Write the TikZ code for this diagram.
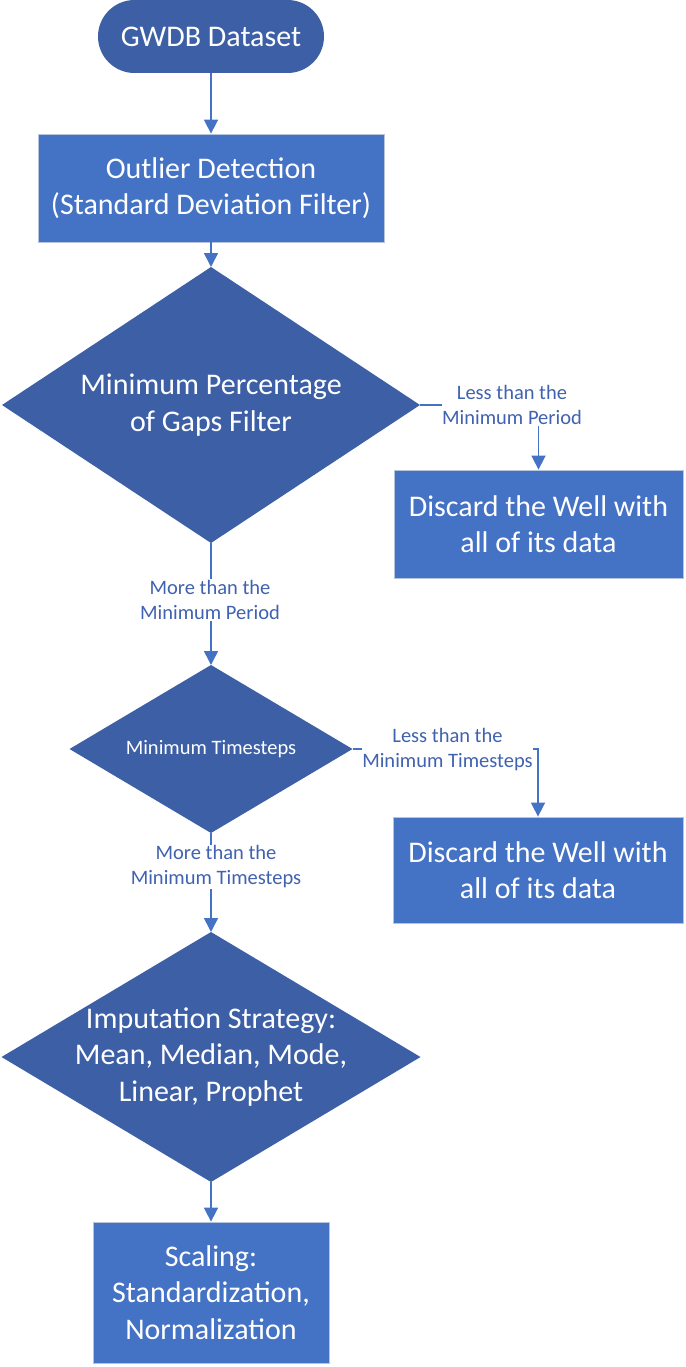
\documentclass[tikz,border=0pt]{standalone}
\usepackage{fontspec}
\setmainfont{Carlito}
\usetikzlibrary{shapes.geometric,shapes.misc,arrows.meta}
\definecolor{boxblue}{HTML}{4472C4}
\definecolor{darkblue}{HTML}{3C5FA6}
\definecolor{lblblue}{HTML}{4062B0}
\definecolor{edgegray}{HTML}{B7C4DE}
\begin{document}
\begin{tikzpicture}[x=1pt,y=-1pt,
 big/.style={font=\fontsize{30}{36.6}\selectfont},
 small/.style={font=\fontsize{20.5}{25}\selectfont},
 procbox/.style={rectangle, fill=boxblue, draw=edgegray, line width=0.8pt, text=white, align=center, big, inner sep=0pt},
 term/.style={rounded rectangle, fill=darkblue, draw=none, text=white, big, inner sep=0pt},
 dec/.style={diamond, fill=darkblue, draw=none, inner sep=0pt, outer sep=0pt},
 dectext/.style={text=white, align=center},
 conn/.style={draw=boxblue, line width=1.6pt, -{Triangle[length=14pt,width=14pt]}},
 lbl/.style={small, text=lblblue, fill=white, align=center, inner xsep=0pt, inner ysep=1pt}
]
\useasboundingbox (0,0) rectangle (685,1367);

\node[term, minimum width=226pt, minimum height=73pt] (start) at (211,36.5) {GWDB Dataset};
\node[procbox, minimum width=346pt, minimum height=108pt] (b1) at (211,188) {Outlier Detection\\(Standard Deviation Filter)};
\node[dec, minimum width=418pt, minimum height=276pt,
      label={[dectext,big]center:{Minimum Percentage\\of Gaps Filter}}] (d1) at (211,405) {};
\node[procbox, minimum width=289pt, minimum height=108pt] (disc1) at (538.5,524) {Discard the Well with\\all of its data};
\node[dec, minimum width=283pt, minimum height=168pt,
      label={[dectext,small]center:{Minimum Timesteps}}] (d2) at (211,749) {};
\node[procbox, minimum width=290pt, minimum height=106pt] (disc2) at (538,870) {Discard the Well with\\all of its data};
\node[dec, minimum width=419pt, minimum height=250pt,
      label={[dectext,big]center:{Imputation Strategy:\\Mean, Median, Mode,\\Linear, Prophet}}] (d3) at (211,1057) {};
\node[procbox, minimum width=236pt, minimum height=141pt] (scale) at (211,1292.5) {Scaling:\\Standardization,\\Normalization};

\draw[conn] (start.south) -- (b1.north);
\draw[conn] (b1.south) -- (d1.north);
\draw[conn] (d1.east) -| (disc1.north);
\draw[conn] (d1.south) -- (d2.north);
\draw[conn] (d2.east) -| (disc2.north);
\draw[conn] (d2.south) -- (d3.north);
\draw[conn] (d3.south) -- (scale.north);

\node[lbl] (l1) at (512,405) {Less than the\\Minimum Period};
\node[lbl] (l2) at (210,600) {More than the\\Minimum Period};
\node[lbl] (l3) at (447.5,750) {Less than the\\Minimum Timesteps};
\node[lbl] (l4) at (216,867) {More than the\\Minimum Timesteps};
\end{tikzpicture}
\end{document}
